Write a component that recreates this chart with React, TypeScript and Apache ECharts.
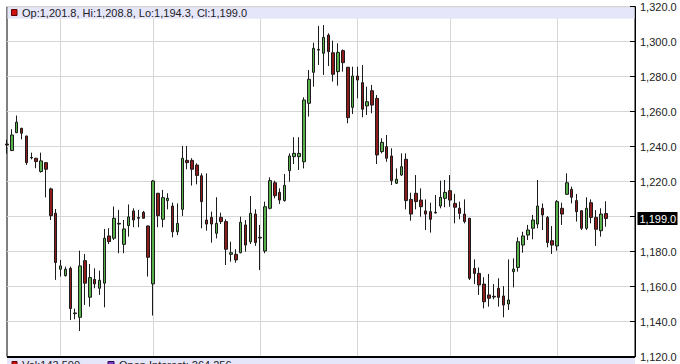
import React, { useEffect, useRef } from "react";
import * as echarts from "echarts";

// ---- data ----
const opens = [
  1241.5, 1237.8, 1248.0, 1250.5, 1246.1, 1233.9, 1233.4, 1225.8, 1230.9, 1215.9,
  1202.0, 1170.0, 1166.3, 1170.5, 1145.0, 1142.5, 1174.9, 1154.0, 1164.2, 1159.1,
  1162.0, 1189.0, 1187.7, 1196.2, 1184.2, 1194.9, 1203.3, 1199.5, 1202.5, 1194.7,
  1161.6, 1213.4, 1198.5, 1209.2, 1206.1, 1191.4, 1204.2, 1232.2, 1232.2, 1229.5,
  1223.4, 1198.1, 1199.6, 1190.5, 1199.6, 1197.2, 1178.5, 1178.5, 1179.4, 1195.3,
  1185.7, 1201.5, 1188.2, 1180.4, 1204.8, 1219.4, 1213.9, 1209.2, 1226.3, 1234.3,
  1234.3, 1231.4, 1264.8, 1282.5, 1295.6, 1293.4, 1303.8, 1293.7, 1282.9, 1294.9,
  1285.4, 1262.5, 1280.4, 1276.6, 1263.3, 1272.0, 1267.6, 1237.2, 1240.0, 1234.7,
  1219.1, 1223.8, 1232.8, 1209.9, 1213.4, 1209.5, 1203.3, 1202.9, 1202.5, 1206.1,
  1210.5, 1214.9, 1207.6, 1204.8, 1201.5, 1199.1, 1170.5, 1167.6, 1161.5, 1155.3,
  1154.5, 1159.1, 1154.7, 1150.1, 1168.6, 1171.0, 1183.8, 1189.5, 1193.4, 1195.8,
  1204.8, 1199.6, 1186.3, 1183.3, 1204.8, 1212.8, 1215.6, 1209.2, 1203.4, 1193.4,
  1208.0, 1199.6, 1192.0, 1201.8,
];
const closes = [
  1241.0, 1246.7, 1254.0, 1247.7, 1230.9, 1233.6, 1231.5, 1231.9, 1227.1, 1200.6,
  1173.8, 1171.9, 1170.0, 1147.5, 1144.6, 1171.9, 1162.0, 1165.2, 1161.6, 1163.7,
  1187.7, 1185.8, 1199.1, 1195.8, 1193.0, 1199.9, 1198.1, 1199.1, 1199.1, 1176.8,
  1220.4, 1200.6, 1210.9, 1210.5, 1191.4, 1196.2, 1233.4, 1230.9, 1227.1, 1223.6,
  1208.6, 1195.8, 1195.8, 1196.2, 1197.2, 1181.4, 1179.4, 1175.3, 1196.8, 1183.8,
  1201.9, 1185.2, 1187.8, 1205.7, 1220.6, 1212.0, 1209.5, 1217.9, 1234.7, 1236.2,
  1236.2, 1266.7, 1278.5, 1296.2, 1295.2, 1302.5, 1294.3, 1281.4, 1293.9, 1288.0,
  1256.6, 1280.4, 1278.1, 1261.4, 1265.7, 1263.8, 1235.3, 1242.5, 1233.4, 1220.6,
  1221.4, 1228.6, 1209.2, 1201.5, 1208.6, 1205.7, 1201.5, 1198.5, 1202.1, 1211.1,
  1213.9, 1209.5, 1205.4, 1201.9, 1197.2, 1164.8, 1167.6, 1161.0, 1151.4, 1153.4,
  1154.1, 1153.9, 1149.5, 1152.4, 1170.1, 1185.7, 1189.0, 1192.4, 1198.1, 1206.1,
  1201.0, 1185.2, 1183.8, 1208.6, 1201.5, 1219.4, 1211.1, 1202.9, 1193.4, 1204.8,
  1199.6, 1192.8, 1201.5, 1199.0,
];
const lows = [
  1236.0, 1237.5, 1247.8, 1244.2, 1229.6, 1232.8, 1227.7, 1225.2, 1211.0, 1198.1,
  1163.9, 1165.8, 1165.8, 1141.0, 1141.4, 1134.7, 1149.6, 1148.6, 1159.1, 1155.3,
  1148.2, 1184.4, 1186.7, 1179.1, 1179.1, 1188.6, 1194.0, 1194.0, 1199.0, 1165.8,
  1143.5, 1194.0, 1193.9, 1204.2, 1188.2, 1189.5, 1200.4, 1227.1, 1217.8, 1218.5,
  1193.4, 1192.0, 1185.2, 1187.6, 1195.8, 1172.4, 1174.3, 1173.7, 1179.1, 1180.0,
  1184.4, 1183.3, 1169.5, 1179.1, 1204.2, 1210.5, 1207.3, 1208.6, 1220.0, 1230.1,
  1226.7, 1227.6, 1257.2, 1274.3, 1286.7, 1281.0, 1286.1, 1277.2, 1274.9, 1282.9,
  1253.4, 1258.7, 1267.6, 1256.8, 1258.1, 1259.1, 1230.1, 1236.2, 1231.4, 1218.1,
  1218.7, 1223.3, 1204.2, 1197.7, 1204.2, 1200.0, 1192.4, 1190.9, 1201.9, 1204.8,
  1205.4, 1205.7, 1196.2, 1198.5, 1196.2, 1163.8, 1161.5, 1155.3, 1147.6, 1148.6,
  1152.8, 1148.6, 1142.5, 1146.7, 1159.6, 1168.6, 1179.4, 1186.7, 1187.1, 1193.4,
  1192.4, 1182.5, 1178.7, 1180.6, 1195.3, 1212.4, 1207.6, 1197.2, 1192.4, 1192.4,
  1196.2, 1183.3, 1188.6, 1194.3,
];
const highs = [
  1244.0, 1250.0, 1257.8, 1250.8, 1246.3, 1236.6, 1233.6, 1236.6, 1231.0, 1216.6,
  1204.4, 1175.3, 1171.5, 1171.5, 1147.5, 1180.6, 1178.7, 1173.0, 1170.5, 1169.2,
  1193.0, 1193.4, 1205.8, 1203.9, 1198.1, 1207.0, 1204.8, 1203.9, 1203.3, 1195.0,
  1221.0, 1213.6, 1215.3, 1213.4, 1208.0, 1207.6, 1240.4, 1240.4, 1233.4, 1230.5,
  1224.8, 1224.8, 1202.9, 1211.1, 1202.3, 1198.5, 1185.7, 1181.4, 1200.0, 1198.1,
  1211.8, 1204.2, 1195.3, 1208.6, 1222.5, 1220.6, 1216.2, 1224.4, 1236.2, 1245.4,
  1245.4, 1268.2, 1283.8, 1299.4, 1309.0, 1309.5, 1304.8, 1300.6, 1299.1, 1295.6,
  1285.6, 1285.7, 1285.7, 1286.7, 1274.3, 1275.3, 1269.5, 1244.8, 1246.7, 1239.1,
  1227.6, 1236.2, 1236.2, 1213.7, 1223.8, 1216.2, 1209.9, 1208.0, 1212.4, 1220.6,
  1221.0, 1223.8, 1213.0, 1208.6, 1209.9, 1199.3, 1175.6, 1171.0, 1165.4, 1167.3,
  1161.5, 1164.8, 1160.4, 1175.6, 1176.2, 1188.2, 1191.4, 1195.3, 1201.0, 1221.0,
  1207.6, 1200.4, 1194.7, 1209.5, 1208.0, 1224.8, 1217.2, 1213.0, 1203.8, 1211.1,
  1209.9, 1203.8, 1204.8, 1208.8,
];
const slotCount = 130;
const sessions = Array.from({ length: slotCount }, (_, i) => `S${i + 1}`);
const monthStarts = [11, 30, 52, 72, 91, 113];
const yMin = 1120;
const yMax = 1320;
const yStep = 20;
const lastQuote = { op: 1201.8, hi: 1208.8, lo: 1194.3, cl: 1199.0 };
const volume = 143500;
const openInterest = 264256;

const fmt1 = (v: number) =>
  v.toLocaleString("en-US", { minimumFractionDigits: 1, maximumFractionDigits: 1 });
const fmt0 = (v: number) => v.toLocaleString("en-US");

const FONT = 'Arial, "Liberation Sans", sans-serif';
const BAND = "#e6e6fa";

export default function App() {
  const ref = useRef<HTMLDivElement>(null);
  useEffect(() => {
    if (!ref.current) return;
    const chart = echarts.init(ref.current, undefined, { renderer: "svg" });
    const candles = opens.map((o, i) => [o, closes[i], lows[i], highs[i]]);
    const gridLeft = 7;
    const gridTop = 6.7;
    const gridW = 628;
    const gridH = 350;
    chart.setOption({
      animation: false,
      backgroundColor: "#fff",
      grid: {
        left: gridLeft,
        top: gridTop,
        width: gridW,
        height: gridH,
        show: true,
        borderColor: "#000",
        borderWidth: 1,
        backgroundColor: "transparent",
      },
      xAxis: {
        type: "category",
        data: sessions,
        boundaryGap: false,
        axisLine: { show: false },
        axisTick: { show: false },
        axisLabel: { show: false },
        splitLine: {
          show: true,
          interval: (idx: number) => monthStarts.includes(idx),
          lineStyle: { color: "#d6d6d6", width: 1 },
        },
      },
      yAxis: {
        type: "value",
        position: "right",
        min: yMin,
        max: yMax,
        interval: yStep,
        scale: true,
        axisLine: { show: true, lineStyle: { color: "#000", width: 1 } },
        axisTick: { show: true, inside: true, length: 5, lineStyle: { color: "#000" } },
        axisLabel: {
          margin: 5,
          color: "#222",
          fontSize: 11,
          fontFamily: FONT,
          formatter: (v: number) => (v === 1200 ? "" : fmt1(v)),
        },
        splitLine: { show: true, lineStyle: { color: "#d6d6d6", width: 1 } },
      },
      series: [
        {
          type: "candlestick",
          data: candles,
          barWidth: 3,
          clip: false,
          itemStyle: {
            color: "#58b04a",
            color0: "#8e1b1b",
            borderColor: "#1b1b1b",
            borderColor0: "#1b1b1b",
            borderWidth: 1,
          },
        },
      ],
      graphic: [
        {
          id: "topBand",
          type: "rect",
          shape: { x: gridLeft + 0.5, y: gridTop + 0.5, width: gridW - 1, height: 11.5 },
          style: { fill: BAND },
          z: 1,
        },
        {
          id: "topIcon",
          type: "rect",
          shape: { x: 11.5, y: 9.5, width: 5.5, height: 6 },
          style: { fill: "#d01010", stroke: "#5a0000", lineWidth: 1 },
          z: 2,
        },
        {
          id: "topText",
          type: "text",
          x: 22,
          y: 12.6,
          style: {
            text: `Op:${fmt1(lastQuote.op)}, Hi:${fmt1(lastQuote.hi)}, Lo:${fmt1(lastQuote.lo)}, Cl:${fmt1(lastQuote.cl)}`,
            fill: "#222",
            font: `11px ${FONT}`,
            verticalAlign: "middle",
          },
          z: 2,
        },
        {
          id: "botBand",
          type: "rect",
          shape: { x: gridLeft, y: 357, width: gridW, height: 7 },
          style: { fill: BAND },
          z: 1,
        },
        {
          id: "botLine",
          type: "line",
          shape: { x1: gridLeft, y1: 357, x2: gridLeft + gridW, y2: 357 },
          style: { stroke: "#000", lineWidth: 2 },
          z: 2,
        },
        {
          id: "volIcon",
          type: "rect",
          shape: { x: 12, y: 361.5, width: 5, height: 6 },
          style: { fill: "#d01010", stroke: "#5a0000", lineWidth: 1 },
          z: 2,
        },
        {
          id: "volText",
          type: "text",
          x: 22,
          y: 359,
          style: {
            text: `Vol:${fmt0(volume)}`,
            fill: "#222",
            font: `11px ${FONT}`,
            verticalAlign: "top",
          },
          z: 2,
        },
        {
          id: "oiIcon",
          type: "rect",
          shape: { x: 108, y: 361.5, width: 6, height: 6 },
          style: { fill: "#7a3cc0", stroke: "#2a0050", lineWidth: 1 },
          z: 2,
        },
        {
          id: "oiText",
          type: "text",
          x: 119,
          y: 359,
          style: {
            text: `Open Interest: ${fmt0(openInterest)}`,
            fill: "#222",
            font: `11px ${FONT}`,
            verticalAlign: "top",
          },
          z: 2,
        },
      ],
    });
    // current price tag on the right axis, placed via the axis scale
    const py = chart.convertToPixel({ yAxisIndex: 0 }, lastQuote.cl) as number;
    chart.setOption({
      graphic: [
        {
          id: "priceBox",
          type: "rect",
          shape: { x: 637.5, y: py - 6.5, width: 40, height: 13 },
          style: { fill: "#000" },
          z: 10,
        },
        {
          id: "priceText",
          type: "text",
          x: 639.5,
          y: py + 0.5,
          style: {
            text: fmt1(lastQuote.cl),
            fill: "#fff",
            font: `11px ${FONT}`,
            verticalAlign: "middle",
          },
          z: 11,
        },
      ],
    });
    return () => chart.dispose();
  }, []);
  return (
    <div
      ref={ref}
      style={{ position: "fixed", left: 0, top: 0, width: 680, height: 364, background: "#fff" }}
    />
  );
}
